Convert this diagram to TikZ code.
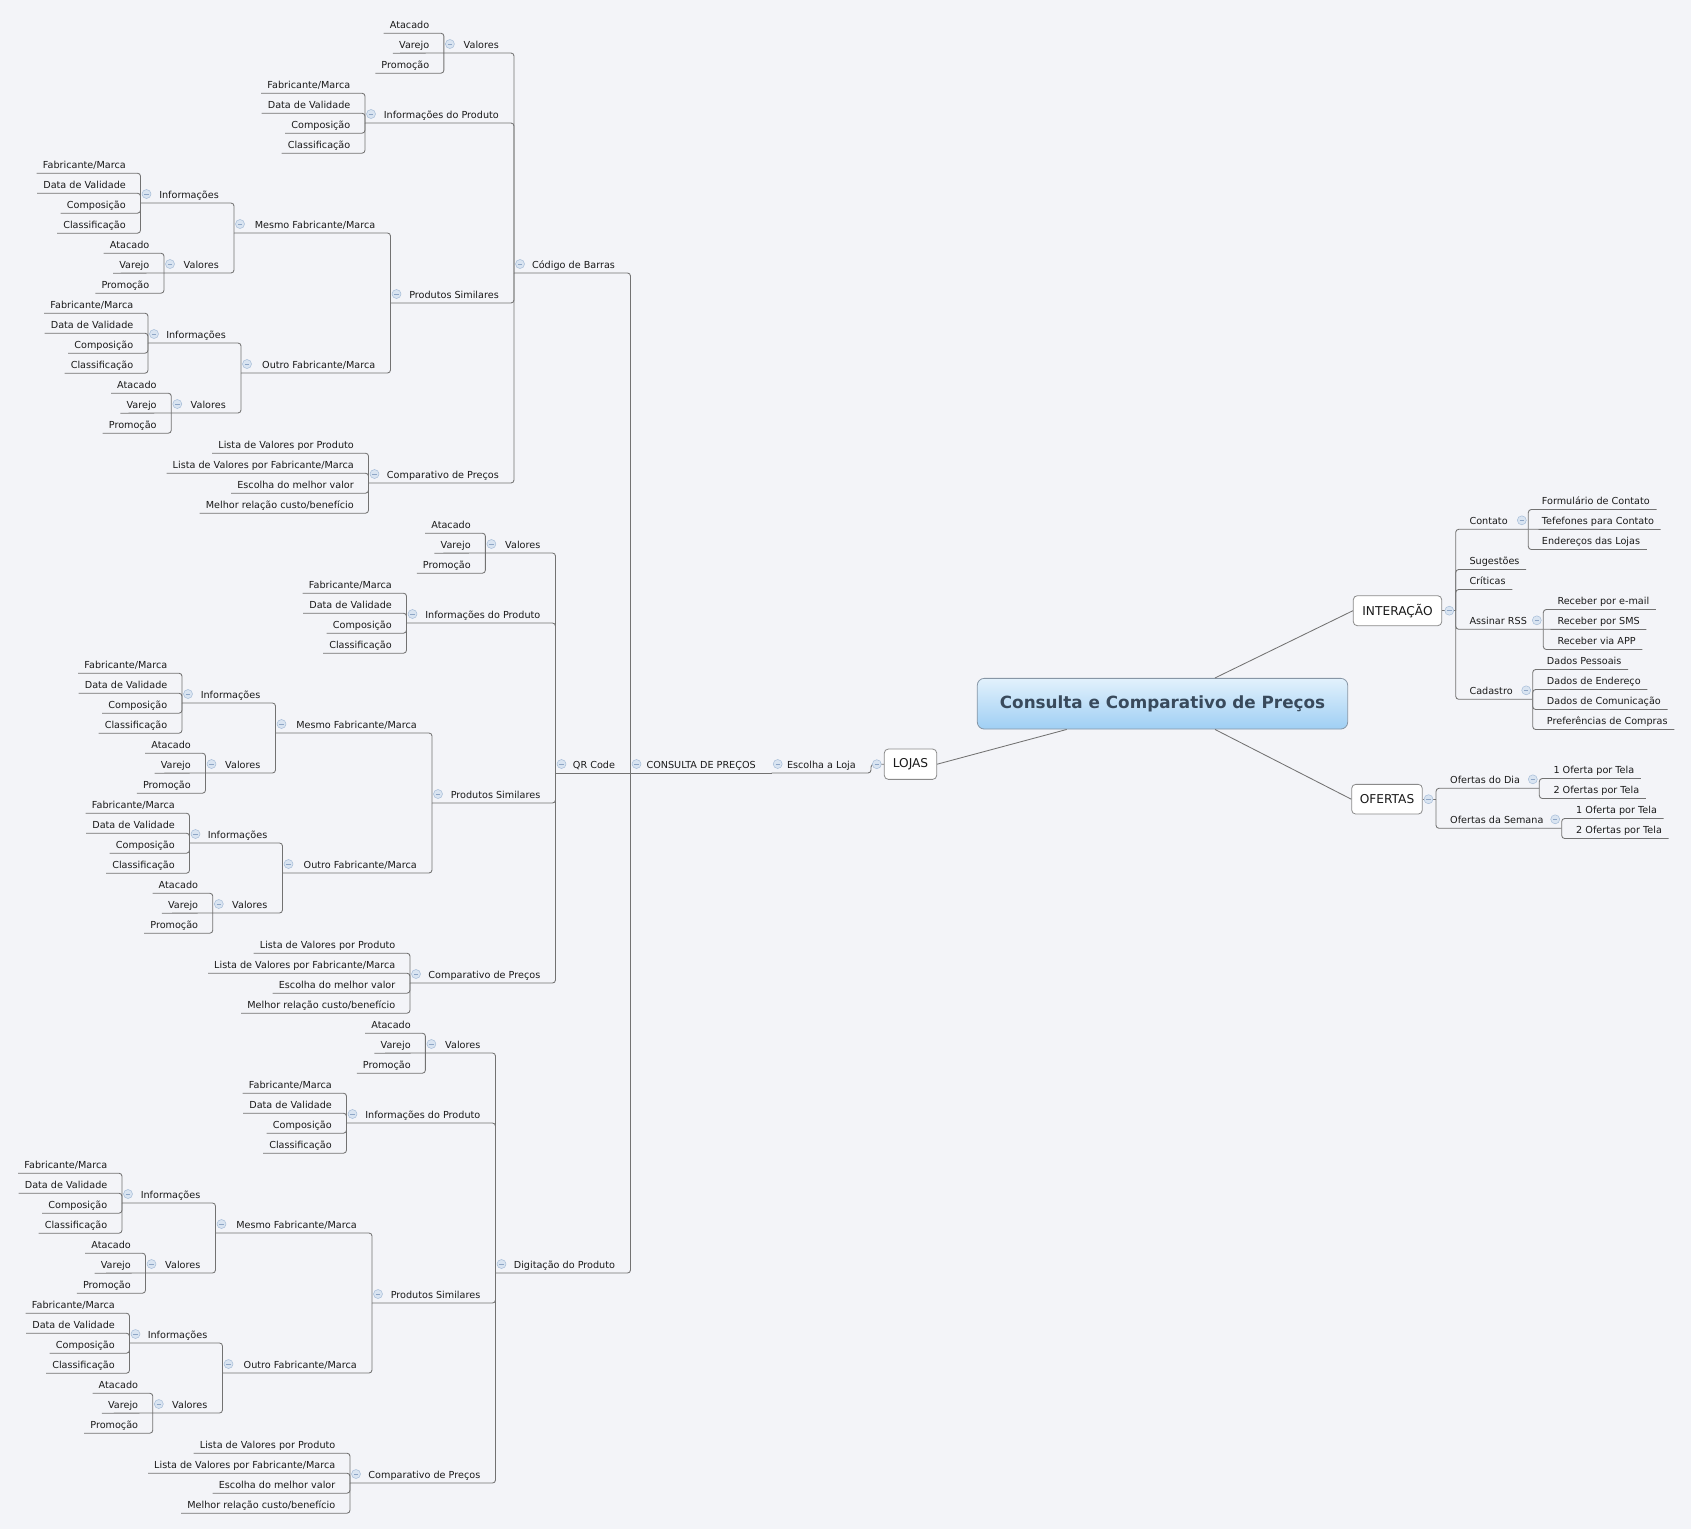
\documentclass[tikz,border=0pt]{standalone}
\usepackage{fontspec}
\setmainfont{DejaVu Sans}
\usetikzlibrary{calc}
\definecolor{bg}{HTML}{F3F4F8}
\definecolor{ln}{HTML}{727272}
\definecolor{tx}{HTML}{1A1A1A}
\definecolor{cfill}{HTML}{D9E4F1}
\definecolor{cdraw}{HTML}{A6BDD8}
\definecolor{cminus}{HTML}{8EA6C6}
\definecolor{rtop}{HTML}{E2F1FC}
\definecolor{rbot}{HTML}{9FCFF4}
\definecolor{rtext}{HTML}{394A5C}
\definecolor{bxd}{HTML}{8A8A8A}
\definecolor{rbd}{HTML}{8796A6}
\tikzset{
  topic/.style={font=\fontsize{9.65}{11}\selectfont, text=tx, inner xsep=0pt, inner ysep=0pt, text height=13pt, text depth=5pt},
  conn/.style={draw=ln, line width=0.85pt, rounded corners=3pt},
  rootline/.style={draw=ln, line width=0.85pt},
  clps/.style={circle, minimum size=9pt, inner sep=0pt, fill=cfill, draw=cdraw, line width=0.5pt,
    path picture={\draw[cminus, line width=0.9pt] ([xshift=-2.2pt]path picture bounding box.center) -- ([xshift=2.2pt]path picture bounding box.center);}},
  box/.style={draw=bxd, fill=white, rounded corners=4pt, line width=0.8pt, font=\fontsize{12.2}{14}\selectfont, text=tx, inner sep=0pt},
  rootbox/.style={draw=rbd, top color=rtop, bottom color=rbot, rounded corners=7pt, line width=0.8pt,
    minimum width=370.4pt, minimum height=50.7pt, inner sep=0pt, font=\bfseries\fontsize{16.8}{20}\selectfont, text=rtext}
}
% left side helpers
\newcommand\lfleaf[4]{\node[topic,anchor=east,inner xsep=6pt] (#1) at ({#2+6},{24+20*(#3)}) {#4};}
\newcommand\lfpar[5]{\node[topic,anchor=east] (#1) at ({#3},{24+20*(#4)}) {#5};
  \coordinate (#1-b) at ({#2},{33+20*(#4)});
  \node[clps] (#1-c) at ({#2+6},{24+20*(#4)}) {};}
\newcommand\cnelb[2]{\draw[conn] (#1) -| (#2-b);}
\newcommand\cnstr[2]{\draw[conn] (#1) -- (#2-b);}
% right side helpers
\newcommand\rtleaf[4]{\node[topic,anchor=west,inner xsep=6.5pt] (#1) at ({#2-6.5},{#3}) {#4};}
\newcommand\rtpar[5]{\node[topic,anchor=west] (#1) at ({#3},{#4}) {#5};
  \coordinate (#1-b) at ({#2},{#4+9});
  \node[clps] (#1-c) at ({#2-6.5},{#4}) {};}
% leaf groups
\newcommand\valleaves[4]{%
  \lfleaf{#1a}{#2}{#3}{Atacado}
  \lfleaf{#1b}{#2}{#3+1}{Varejo}
  \lfleaf{#1c}{#2}{#3+2}{Promoção}
  \cnelb{#1a.south west}{#4}
  \cnstr{#1b.south west}{#4}
  \cnelb{#1c.south west}{#4}}
\newcommand\infoleaves[4]{%
  \lfleaf{#1a}{#2}{#3}{Fabricante/Marca}
  \lfleaf{#1b}{#2}{#3+1}{Data de Validade}
  \lfleaf{#1c}{#2}{#3+2}{Composição}
  \lfleaf{#1d}{#2}{#3+3}{Classificação}
  \cnelb{#1a.south west}{#4}
  \cnelb{#1b.south west}{#4}
  \cnelb{#1c.south west}{#4}
  \cnelb{#1d.south west}{#4}}
\newcommand\compleaves[4]{%
  \lfleaf{#1a}{#2}{#3}{Lista de Valores por Produto}
  \lfleaf{#1b}{#2}{#3+1}{Lista de Valores por Fabricante/Marca}
  \lfleaf{#1c}{#2}{#3+2}{Escolha do melhor valor}
  \lfleaf{#1d}{#2}{#3+3}{Melhor relação custo/benefício}
  \cnelb{#1a.south west}{#4}
  \cnelb{#1b.south west}{#4}
  \cnelb{#1c.south west}{#4}
  \cnelb{#1d.south west}{#4}}
% one whole branch: #1 prefix, #2 bracket x, #3 first row, #4 label
\newcommand\subtree[4]{%
  \lfpar{#1}{#2}{615.2}{#3+12}{#4}
  \lfpar{#1v}{#2-70.1}{#2-15}{#3+1}{Valores}
  \valleaves{#1v}{#2-84.6}{#3}{#1v}
  \cnelb{#1v-b}{#1}
  \lfpar{#1i}{#2-149}{#2-15}{#3+4.5}{Informações do Produto}
  \infoleaves{#1i}{#2-163.5}{#3+3}{#1i}
  \cnelb{#1i-b}{#1}
  \lfpar{#1s}{#2-123.5}{#2-15}{#3+13.5}{Produtos Similares}
  \cnelb{#1s-b}{#1}
  \lfpar{#1m}{#2-280}{#2-138.5}{#3+10}{Mesmo Fabricante/Marca}
  \cnelb{#1m-b}{#1s}
  \lfpar{#1mi}{#2-373.5}{#2-295}{#3+8.5}{Informações}
  \infoleaves{#1mi}{#2-388}{#3+7}{#1mi}
  \cnelb{#1mi-b}{#1m}
  \lfpar{#1mv}{#2-350}{#2-295}{#3+12}{Valores}
  \valleaves{#1mv}{#2-364.5}{#3+11}{#1mv}
  \cnelb{#1mv-b}{#1m}
  \lfpar{#1o}{#2-273}{#2-138.5}{#3+17}{Outro Fabricante/Marca}
  \cnelb{#1o-b}{#1s}
  \lfpar{#1oi}{#2-366}{#2-288}{#3+15.5}{Informações}
  \infoleaves{#1oi}{#2-380.5}{#3+14}{#1oi}
  \cnelb{#1oi-b}{#1o}
  \lfpar{#1ov}{#2-342.7}{#2-288}{#3+19}{Valores}
  \valleaves{#1ov}{#2-357.2}{#3+18}{#1ov}
  \cnelb{#1ov-b}{#1o}
  \lfpar{#1c}{#2-145.5}{#2-15}{#3+22.5}{Comparativo de Preços}
  \compleaves{#1c}{#2-160}{#3+21}{#1c}
  \cnelb{#1c-b}{#1}}
\begin{document}
\begin{tikzpicture}[x=1pt,y=-1pt]
\fill[bg] (0,0) rectangle (1691,1529);
\useasboundingbox (0,0) rectangle (1691,1529);

% ---------- left: LOJAS ----------
\subtree{cb}{514}{0}{Código de Barras}
\subtree{qr}{555.5}{25}{QR Code}
\subtree{dg}{495.5}{50}{Digitação do Produto}
\lfpar{cp}{630.5}{756}{37}{CONSULTA DE PREÇOS}
\cnelb{cb-b}{cp}
\cnstr{qr-b}{cp}
\cnelb{dg-b}{cp}
\lfpar{el}{771.7}{856}{37}{Escolha a Loja}
\cnstr{cp-b}{el}
\node[box, minimum width=52.4pt, minimum height=30.3pt] (lojas) at (910.5,764.2) {LOJAS};
\coordinate (lojas-b) at (871,764.2);
\draw[conn] (el-b) -| (lojas-b) -- (lojas.west);
\node[clps] (lojas-c) at (876.8,764.2) {};

% ---------- centre ----------
\node[rootbox] (root) at (1162.5,703.7) {Consulta e Comparativo de Preços};

% ---------- right: INTERAÇÃO ----------
\node[box, minimum width=88.4pt, minimum height=30pt] (inter) at (1397.5,610.7) {INTERAÇÃO};
\coordinate (inter-b) at (1455.7,610.7);
\rtpar{ct}{1528.3}{1469.3}{520.3}{Contato}
\rtleaf{cta}{1541.7}{500.3}{Formulário de Contato}
\rtleaf{ctb}{1541.7}{520.3}{Tefefones para Contato}
\rtleaf{ctc}{1541.7}{540.3}{Endereços das Lojas}
\cnelb{cta.south east}{ct}
\cnstr{ctb.south east}{ct}
\cnelb{ctc.south east}{ct}
\cnelb{ct-b}{inter}
\rtleaf{sg}{1469.3}{560.3}{Sugestões}
\cnelb{sg.south east}{inter}
\rtleaf{cr}{1469.3}{580.3}{Críticas}
\cnelb{cr.south east}{inter}
\rtpar{rs}{1543.3}{1469.3}{620.3}{Assinar RSS}
\rtleaf{rsa}{1557.3}{600.3}{Receber por e-mail}
\rtleaf{rsb}{1557.3}{620.3}{Receber por SMS}
\rtleaf{rsc}{1557.3}{640.3}{Receber via APP}
\cnelb{rsa.south east}{rs}
\cnstr{rsb.south east}{rs}
\cnelb{rsc.south east}{rs}
\cnelb{rs-b}{inter}
\rtpar{cd}{1532.7}{1469.3}{690.3}{Cadastro}
\rtleaf{cda}{1546.7}{660.3}{Dados Pessoais}
\rtleaf{cdb}{1546.7}{680.3}{Dados de Endereço}
\rtleaf{cdc}{1546.7}{700.3}{Dados de Comunicação}
\rtleaf{cdd}{1546.7}{720.3}{Preferências de Compras}
\cnelb{cda.south east}{cd}
\cnelb{cdb.south east}{cd}
\cnelb{cdc.south east}{cd}
\cnelb{cdd.south east}{cd}
\cnelb{cd-b}{inter}
\draw[conn] (inter.east) -- (inter-b);
\node[clps] (inter-c) at (1449.3,610.7) {};

% ---------- right: OFERTAS ----------
\node[box, minimum width=70.6pt, minimum height=29.7pt] (of) at (1387,799.2) {OFERTAS};
\coordinate (of-b) at (1436,799.2);
\rtpar{od}{1539.3}{1450}{779.3}{Ofertas do Dia}
\rtleaf{oda}{1553.3}{769.3}{1 Oferta por Tela}
\rtleaf{odb}{1553.3}{789.3}{2 Ofertas por Tela}
\cnelb{oda.south east}{od}
\cnelb{odb.south east}{od}
\rtpar{os}{1561.7}{1450}{819.3}{Ofertas da Semana}
\rtleaf{osa}{1576}{809.3}{1 Oferta por Tela}
\rtleaf{osb}{1576}{829.3}{2 Ofertas por Tela}
\cnelb{osa.south east}{os}
\cnelb{osb.south east}{os}
\cnelb{od-b}{of}
\cnelb{os-b}{of}
\draw[conn] (of.east) -- (of-b);
\node[clps] (of-c) at (1428.5,799.2) {};

% ---------- links from the centre ----------
\draw[rootline] ($(root.north)+(52.5,0)$) -- (inter.west);
\draw[rootline] ($(root.south)+(52.5,0)$) -- (of.west);
\draw[rootline] ($(root.south)+(-95.8,0)$) -- (lojas.east);
\end{tikzpicture}
\end{document}
